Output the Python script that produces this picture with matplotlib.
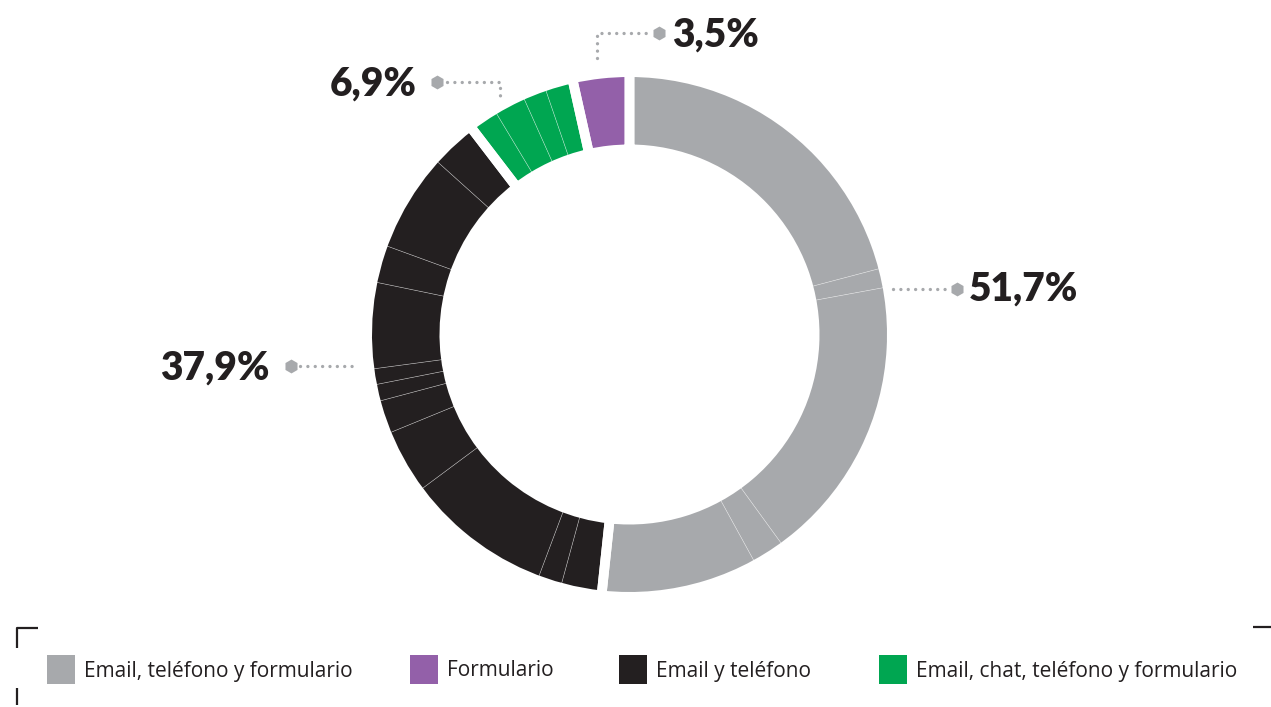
import matplotlib
matplotlib.use("Agg")

import matplotlib.pyplot as plt
from matplotlib.patches import Rectangle

# Channel groups (percent of companies) and their colours
groups = ["Email, teléfono y formulario", "Email y teléfono",
          "Email, chat, teléfono y formulario", "Formulario"]
group_values = [51.7, 37.9, 6.9, 3.5]
group_labels = ["51,7%", "37,9%", "6,9%", "3,5%"]
colors = ["#A7A9AC", "#231F20", "#00A651", "#9360A9"]

# Each group is built from smaller slices (percent)
sub_values = [
    [20.9, 1.2, 17.9, 2.0, 9.7],
    [2.54, 1.47, 9.12, 3.98, 2.05, 1.04, 0.98, 5.36, 2.33, 6.09, 2.94],
    [1.78, 1.93, 1.44, 1.75],
    [3.5],
]

# Legend order
legend_order = [0, 3, 1, 2]

W, H = 1271, 707
fig = plt.figure(figsize=(W / 100, H / 100), dpi=100)
ax = fig.add_axes([0, 0, 1, 1])

cx, cy = 629.5, H - 334.5
r_out, r_in = 257.5, 190.0
gap_pt = 7.0
pad = gap_pt / 0.72 / 2

# thin slices
vals, cols = [], []
for g, subs in enumerate(sub_values):
    vals += subs
    cols += [colors[g]] * len(subs)
ax.pie(vals, colors=cols, startangle=90, counterclock=False,
       center=(cx, cy), radius=r_out + pad, normalize=True,
       wedgeprops=dict(width=r_out - r_in + 2 * pad, edgecolor=(1, 1, 1, 0.4),
                       linewidth=0.45))
# white gaps between groups
ax.pie(group_values, colors=["none"] * 4, startangle=90, counterclock=False,
       center=(cx, cy), radius=r_out + pad,
       wedgeprops=dict(width=r_out - r_in + 2 * pad, facecolor="none",
                       edgecolor="white", linewidth=gap_pt))

ax.set_xlim(0, W)
ax.set_ylim(0, H)
ax.set_aspect("equal")
ax.axis("off")

dot_gray = "#A7A9AC"
dot_style = dict(color=dot_gray, lw=2.4, linestyle=(0, (0.01, 2.2)),
                 dash_capstyle="round", solid_capstyle="round")
lab_font = dict(family="Lato", weight="heavy", fontsize=28, color="#231F20")


def leader(xs, ys, hx, hy):
    ax.plot(xs, [H - y for y in ys], **dot_style)
    ax.plot([hx], [H - hy], marker="h", markersize=10, color=dot_gray,
            markeredgewidth=0)


# 51,7%
leader([893, 950], [289, 289], 957, 289)
ax.text(969, H - 289, group_labels[0], ha="left", va="center", **lab_font)
# 37,9%
leader([300, 357], [366, 366], 291, 366)
ax.text(270, H - 368, group_labels[1], ha="right", va="center", **lab_font)
# 6,9%
leader([447, 500, 500], [82, 82, 97], 437, 82)
ax.text(417, H - 84, group_labels[2], ha="right", va="center", **lab_font)
# 3,5%
leader([597, 597, 650], [58, 33, 33], 659, 33)
ax.text(672, H - 35, group_labels[3], ha="left", va="center", **lab_font)

# legend
sq_x = [47, 410, 619, 879]
for x, g in zip(sq_x, legend_order):
    ax.add_patch(Rectangle((x, H - 684), 28, 29, color=colors[g], lw=0))
    ax.text(x + 37, H - 671, groups[g], ha="left", va="center",
            family="Open Sans", fontsize=15, color="#231F20")

# corner marks
mark = dict(color="#231F20", lw=1.6, solid_capstyle="butt")
ax.plot([17, 17, 38], [H - 648, H - 628, H - 628], **mark)
ax.plot([17, 17], [H - 688, H - 705], **mark)
ax.plot([1253, W], [H - 627, H - 627], **mark)

fig.savefig("out.png", dpi=100)
